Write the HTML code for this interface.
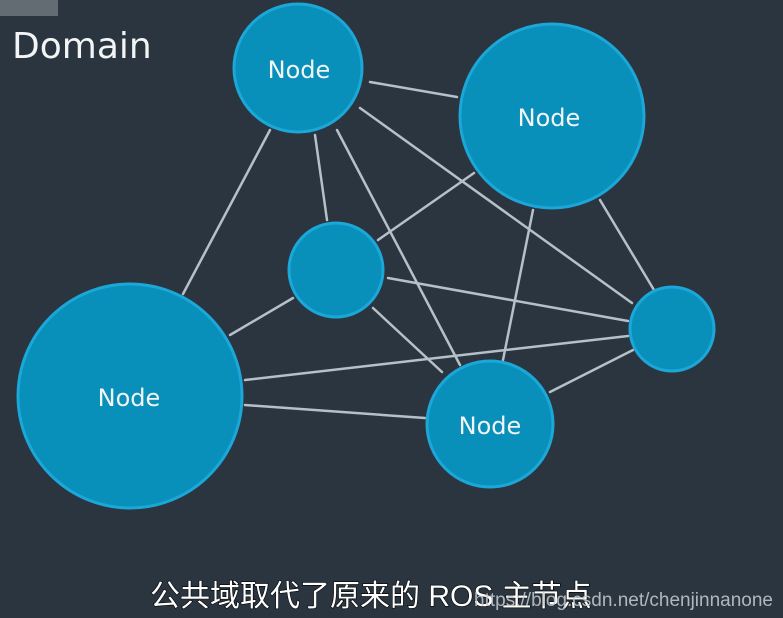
<!DOCTYPE html>
<html><head><meta charset="utf-8"><style>
html,body{margin:0;padding:0;background:#2a3540;width:783px;height:618px;overflow:hidden}
svg{display:block}
</style></head><body>
<svg width="783" height="618" viewBox="0 0 783 618" xmlns="http://www.w3.org/2000/svg">
<rect width="783" height="618" fill="#2a3540"/>
<rect x="0" y="0" width="58" height="16" fill="#8a9096" opacity="0.6"/>
<text x="12" y="58" font-family="'DejaVu Sans','Liberation Sans',sans-serif" font-size="36" fill="#f2f4f5">Domain</text>
<g stroke="#b6c0c8" stroke-width="2.5" stroke-linecap="round">
<line x1="370" y1="82" x2="457" y2="97"/>
<line x1="270" y1="130" x2="183" y2="294"/>
<line x1="315" y1="135" x2="327" y2="220"/>
<line x1="337" y1="130" x2="460" y2="365"/>
<line x1="360" y1="108" x2="632" y2="303"/>
<line x1="474" y1="173" x2="378" y2="240"/>
<line x1="533" y1="210" x2="503" y2="360"/>
<line x1="600" y1="200" x2="654" y2="290"/>
<line x1="293" y1="298" x2="230" y2="335"/>
<line x1="388" y1="278" x2="628" y2="321"/>
<line x1="373" y1="308" x2="442" y2="372"/>
<line x1="245" y1="380" x2="628" y2="336"/>
<line x1="245" y1="405" x2="425" y2="418"/>
<line x1="550" y1="392" x2="633" y2="350"/>
</g>
<g fill="#0890bb" stroke="#1ba7d8" stroke-width="3">
<circle cx="298" cy="68" r="64"/>
<circle cx="552" cy="116" r="92"/>
<circle cx="336" cy="270" r="47"/>
<circle cx="130" cy="396" r="112"/>
<circle cx="672" cy="329" r="42"/>
<circle cx="490" cy="424" r="63"/>
</g>
<g font-family="'DejaVu Sans','Liberation Sans',sans-serif" font-size="24" fill="#f2f4f5" text-anchor="middle">
<text x="299" y="78">Node</text>
<text x="549" y="126">Node</text>
<text x="129" y="406">Node</text>
<text x="490" y="434">Node</text>
</g>
<text x="150" y="606" font-family="'Liberation Sans','Noto Sans CJK SC',sans-serif" font-size="30" fill="#fff" stroke="#000" stroke-width="1.2" paint-order="stroke">公共域取代了原来的 ROS 主节点</text>
<text x="773" y="606" text-anchor="end" font-family="'Liberation Sans',sans-serif" font-size="19" fill="#c9cdd1" opacity="0.85">https://blog.csdn.net/chenjinnanone</text>
</svg>
</body></html>
